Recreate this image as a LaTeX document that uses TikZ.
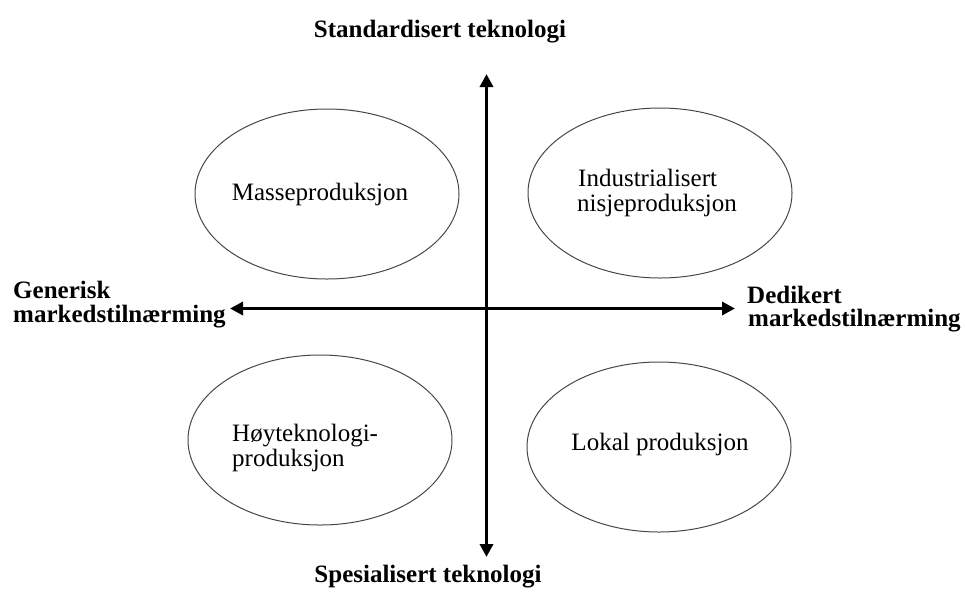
\documentclass[tikz,border=0pt]{standalone}
\usepackage{fontspec}
\setmainfont{Liberation Serif}
\usetikzlibrary{arrows.meta,shapes.geometric}
\begin{document}
\begin{tikzpicture}[x=1pt,y=-1pt,
  axis/.style={line width=3.8pt,{Triangle[length=13pt,width=13pt]}-{Triangle[length=13pt,width=13pt]}},
  field/.style={draw=black!72,line width=1pt,ellipse,inner sep=0pt,minimum width=264pt,minimum height=170pt},
  axislabel/.style={font=\fontsize{25}{28}\selectfont\bfseries,inner sep=0pt},
  fieldlabel/.style={font=\fontsize{25}{28}\selectfont,inner sep=0pt}]
  \useasboundingbox (0,0) rectangle (965,592);

  % axes
  \coordinate (top) at (486.5,74);
  \coordinate (bottom) at (486.5,557);
  \coordinate (left) at (230,308.5);
  \coordinate (right) at (735,308.5);
  \draw[axis] (top) -- (bottom);
  \draw[axis] (left) -- (right);

  % quadrant fields
  \node[field] (tl) at (327,194) {};
  \node[field] (tr) at (660,193) {};
  \node[field] (bl) at (320,440) {};
  \node[field] (br) at (659,447) {};

  \node[fieldlabel,anchor=base] (tltext) at (320,200) {Masseproduksjon};
  \node[fieldlabel,anchor=base west] (trtext1) at (578,186) {Industrialisert};
  \node[fieldlabel,anchor=base west] (trtext2) at (577,211) {nisjeproduksjon};
  \node[fieldlabel,anchor=base west] (bltext1) at (232,441) {Høyteknologi-};
  \node[fieldlabel,anchor=base west] (bltext2) at (232,466) {produksjon};
  \node[fieldlabel,anchor=base] (brtext) at (660,450) {Lokal produksjon};

  % axis labels
  \node[axislabel,anchor=base] (north) at (440,37) {Standardisert teknologi};
  \node[axislabel,anchor=base] (south) at (428,582) {Spesialisert teknologi};
  \node[axislabel,anchor=base west] (west1) at (13,298) {Generisk};
  \node[axislabel,anchor=base west] (west2) at (13,322) {markedstilnærming};
  \node[axislabel,anchor=base west] (east1) at (747,303) {Dedikert};
  \node[axislabel,anchor=base west] (east2) at (748,326) {markedstilnærming};
\end{tikzpicture}
\end{document}
